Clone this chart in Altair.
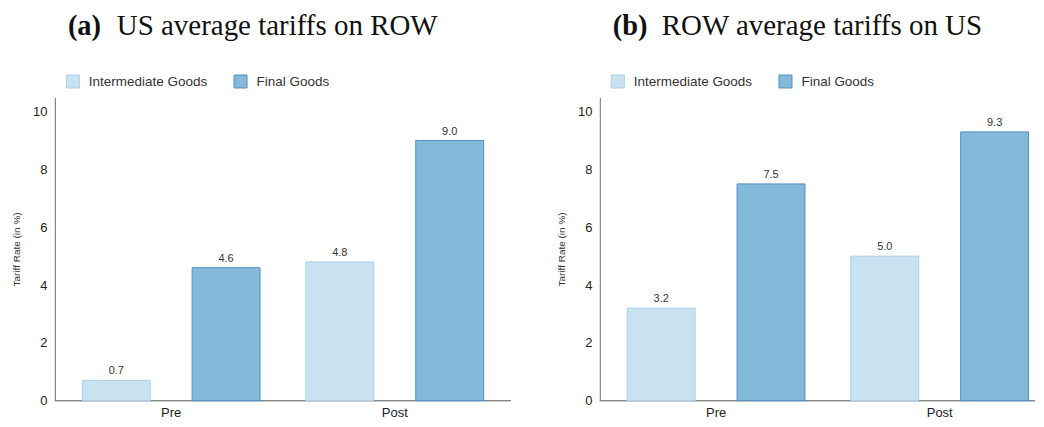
import altair as alt
import pandas as pd

# ---- data ----
periods = ["Pre", "Pre", "Post", "Post"]
goods = ["Intermediate Goods", "Final Goods", "Intermediate Goods", "Final Goods"]
us_on_row = [0.7, 4.6, 4.8, 9.0]
row_on_us = [3.2, 7.5, 5.0, 9.3]

panel_letters = ["(a)", "(b)"]
panel_titles = ["US average tariffs on ROW", "ROW average tariffs on US"]

period_order = ["Pre", "Post"]
goods_order = ["Intermediate Goods", "Final Goods"]
fill_colors = ["#c9e2f0", "#84b9da"]
stroke_colors = ["#a9d0ea", "#4b91c4"]

FULL_W = 457
H = 304
FONT = "Liberation Sans"


def panel(values, letter, title, width):
    df = pd.DataFrame({"period": periods, "goods": goods, "value": values})
    base = alt.Chart(df)
    xscale = alt.Scale(domain=period_order, paddingInner=0, paddingOuter=0.02,
                       range=[0, FULL_W])
    xenc = alt.X("period:N", sort=period_order, scale=xscale, axis=None)
    xoff = alt.XOffset(
        "goods:N", sort=goods_order,
        scale=alt.Scale(paddingInner=0.382, paddingOuter=0.209),
    )
    yenc = alt.Y(
        "value:Q",
        scale=alt.Scale(domain=[0, 10.5], nice=False),
        axis=alt.Axis(
            title="Tariff Rate (in %)", values=[0, 2, 4, 6, 8, 10],
            ticks=False, grid=False, labelPadding=8, labelFontSize=13,
            labelFont=FONT, labelColor="#222", titleFont=FONT,
            titleFontSize=10, titleFontWeight="normal", titleColor="#333",
            titlePadding=11, domainColor="#888", domainWidth=1.2,
        ),
    )
    legend = alt.Legend(
        orient="none", legendX=11, legendY=-23, direction="horizontal",
        title=None, symbolType="square", symbolSize=169, symbolStrokeWidth=1,
        labelFontSize=13.5, labelFont=FONT, labelColor="#333",
        labelOffset=9, columnPadding=24,
    )
    bars = base.mark_bar(strokeWidth=1).encode(
        x=xenc, xOffset=xoff, y=yenc,
        fill=alt.Fill("goods:N", sort=goods_order,
                      scale=alt.Scale(domain=goods_order, range=fill_colors),
                      legend=legend),
        stroke=alt.Stroke("goods:N", sort=goods_order,
                          scale=alt.Scale(domain=goods_order, range=stroke_colors),
                          legend=legend),
    )
    labels = base.mark_text(
        baseline="alphabetic", dy=-6, fontSize=11, font=FONT, color="#333"
    ).encode(
        x=xenc, xOffset=xoff, y=yenc,
        text=alt.Text("value:Q", format=".1f"),
    )
    pdf = pd.DataFrame({"period": period_order})
    xlabels = alt.Chart(pdf).mark_text(
        baseline="top", fontSize=13, font=FONT, color="#222"
    ).encode(x=xenc, y=alt.value(H + 6), text="period:N")
    baseline_rule = alt.Chart(pdf).mark_rule(color="#888", strokeWidth=1.2).encode(
        x=alt.value(0), x2=alt.value(width), y=alt.value(H)
    )
    tdf_a = pd.DataFrame({"t": [letter]})
    tdf_b = pd.DataFrame({"t": [title]})
    t_letter = alt.Chart(tdf_a).mark_text(
        align="left", baseline="alphabetic", font="Liberation Serif",
        fontSize=28.5, fontWeight="bold", color="#111",
    ).encode(x=alt.value(13), y=alt.value(-62), text="t:N")
    t_main = alt.Chart(tdf_b).mark_text(
        align="left", baseline="alphabetic", font="Liberation Serif",
        fontSize=29, color="#111",
    ).encode(x=alt.value(62), y=alt.value(-62), text="t:N")
    return alt.layer(baseline_rule, bars, labels, xlabels, t_letter, t_main).properties(
        width=width, height=H
    )


left = panel(us_on_row, panel_letters[0], panel_titles[0], FULL_W)
right = panel(row_on_us, panel_letters[1], panel_titles[1], 436)

chart = (
    alt.hconcat(left, right, spacing=44)
    .resolve_scale(fill="independent", stroke="independent", y="independent", x="independent")
    .resolve_legend(fill="independent", stroke="independent")
    .properties(padding={"left": 3, "top": 4, "right": 0, "bottom": 0})
    .configure_view(stroke=None)
)

chart.save("out.html", embed_options={"renderer": "svg", "actions": False})
